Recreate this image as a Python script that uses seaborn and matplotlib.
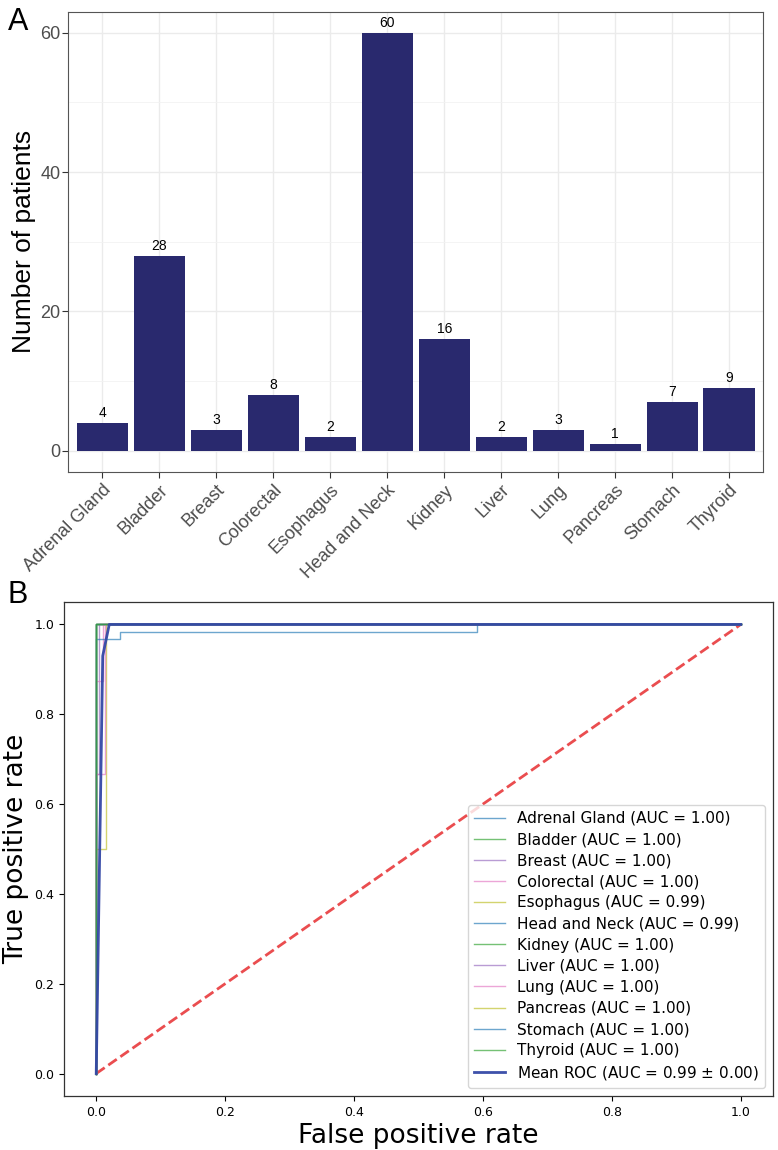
import matplotlib
matplotlib.use("Agg")
import matplotlib.pyplot as plt
import seaborn as sns
from matplotlib.ticker import MultipleLocator

# -------------------------
# Data
# -------------------------
cancer_types = ["Adrenal Gland", "Bladder", "Breast", "Colorectal", "Esophagus",
                "Head and Neck", "Kidney", "Liver", "Lung", "Pancreas",
                "Stomach", "Thyroid"]
patient_counts = [4, 28, 3, 8, 2, 60, 16, 2, 3, 1, 7, 9]

roc_labels = ["Adrenal Gland (AUC = 1.00)", "Bladder (AUC = 1.00)",
              "Breast (AUC = 1.00)", "Colorectal (AUC = 1.00)",
              "Esophagus (AUC = 0.99)", "Head and Neck (AUC = 0.99)",
              "Kidney (AUC = 1.00)", "Liver (AUC = 1.00)", "Lung (AUC = 1.00)",
              "Pancreas (AUC = 1.00)", "Stomach (AUC = 1.00)",
              "Thyroid (AUC = 1.00)"]

fpr_adrenal = [0.0, 0.0, 1.0]
tpr_adrenal = [0.0, 1.0, 1.0]
fpr_bladder = [0.0, 0.0, 1.0]
tpr_bladder = [0.0, 1.0, 1.0]
fpr_breast = [0.0, 0.0, 0.005, 0.005, 1.0]
tpr_breast = [0.0, 0.667, 0.667, 1.0, 1.0]
fpr_colorectal = [0.0, 0.0, 0.010, 0.010, 1.0]
tpr_colorectal = [0.0, 0.875, 0.875, 1.0, 1.0]
fpr_esophagus = [0.0, 0.0, 0.0155, 0.0155, 1.0]
tpr_esophagus = [0.0, 0.5, 0.5, 1.0, 1.0]
fpr_headneck = [0.0, 0.0, 0.037, 0.037, 0.59, 0.59, 1.0]
tpr_headneck = [0.0, 0.967, 0.967, 0.983, 0.983, 1.0, 1.0]
fpr_kidney = [0.0, 0.0, 1.0]
tpr_kidney = [0.0, 1.0, 1.0]
fpr_liver = [0.0, 0.0, 1.0]
tpr_liver = [0.0, 1.0, 1.0]
fpr_lung = [0.0, 0.0, 0.014, 0.014, 1.0]
tpr_lung = [0.0, 0.667, 0.667, 1.0, 1.0]
fpr_pancreas = [0.0, 0.0, 1.0]
tpr_pancreas = [0.0, 1.0, 1.0]
fpr_stomach = [0.0, 0.0, 1.0]
tpr_stomach = [0.0, 1.0, 1.0]
fpr_thyroid = [0.0, 0.0, 1.0]
tpr_thyroid = [0.0, 1.0, 1.0]

fpr_mean = [0.0, 0.0101, 0.0202, 1.0]
tpr_mean = [0.0, 0.93, 1.0, 1.0]
mean_label = "Mean ROC (AUC = 0.99 $\\pm$ 0.00)"

chance_x = [0.0, 1.0]
chance_y = [0.0, 1.0]

roc_curves = [
    (fpr_adrenal, tpr_adrenal), (fpr_bladder, tpr_bladder),
    (fpr_breast, tpr_breast), (fpr_colorectal, tpr_colorectal),
    (fpr_esophagus, tpr_esophagus), (fpr_headneck, tpr_headneck),
    (fpr_kidney, tpr_kidney), (fpr_liver, tpr_liver),
    (fpr_lung, tpr_lung), (fpr_pancreas, tpr_pancreas),
    (fpr_stomach, tpr_stomach), (fpr_thyroid, tpr_thyroid),
]
curve_colors = ["#1f77b4", "#2ca02c", "#9467bd", "#e377c2", "#bcbd22"]

BAR_COLOR = "#29296E"
GREY_TXT = "#4D4D4D"

fig = plt.figure(figsize=(7.78, 11.5), dpi=100)
fig.patch.set_facecolor("white")

# -------------------------
# Panel A : bar chart (ggplot theme_bw look)
# -------------------------
axA = fig.add_axes([68.3 / 778, 1 - 471.7 / 1150, 695 / 778, 460 / 1150])
sns.barplot(x=cancer_types, y=patient_counts, color=BAR_COLOR, saturation=1,
            width=0.9, ax=axA, edgecolor="none")
axA.bar_label(axA.containers[0], padding=2, fontsize=10,
              family="Liberation Sans", color="black")

axA.set_xlim(-0.6, 11.6)
axA.set_ylim(-3, 63)
axA.set_yticks([0, 20, 40, 60])
axA.yaxis.set_minor_locator(MultipleLocator(10))
axA.set_axisbelow(True)
axA.grid(which="major", color="#EBEBEB", lw=1.0)
axA.grid(which="minor", axis="y", color="#F2F2F2", lw=0.6)
axA.tick_params(which="minor", length=0)
axA.tick_params(which="major", length=4, width=0.8, color="#333333",
                labelcolor=GREY_TXT, labelsize=13, pad=3)
axA.tick_params(axis="y", pad=1.5)
for lab in axA.get_yticklabels():
    lab.set_family("Liberation Sans")
axA.set_xticks(range(len(cancer_types)))
axA.set_xticklabels(cancer_types, rotation=45, ha="right",
                    rotation_mode="anchor", family="Liberation Sans",
                    fontsize=13, color=GREY_TXT)
for sp in axA.spines.values():
    sp.set_color("#555555")
    sp.set_linewidth(0.8)
axA.set_xlabel("")
axA.set_ylabel("Number of patients", fontsize=19, family="Liberation Sans",
               labelpad=3)

fig.text(8 / 778, 1 - 30 / 1150, "A", fontsize=22, family="Liberation Sans",
         va="baseline", ha="left")

# -------------------------
# Panel B : ROC curves
# -------------------------
axB = fig.add_axes([64 / 778, 1 - 1096 / 1150, 709 / 778, 494 / 1150])
sns.lineplot(x=chance_x, y=chance_y, ax=axB, color="#E8393C", alpha=0.9,
             lw=2, linestyle="--", estimator=None, sort=False)

for i, (fpr, tpr) in enumerate(roc_curves):
    sns.lineplot(x=fpr, y=tpr, ax=axB, estimator=None, sort=False,
                 color=curve_colors[i % len(curve_colors)], lw=1, alpha=0.65,
                 label=roc_labels[i])

sns.lineplot(x=fpr_mean, y=tpr_mean, ax=axB, estimator=None, sort=False,
             color="#3347A6", lw=2.0, alpha=0.95, label=mean_label)

axB.set_xlim(-0.05, 1.05)
axB.set_ylim(-0.05, 1.05)
axB.set_xticks([0.0, 0.2, 0.4, 0.6, 0.8, 1.0])
axB.set_yticks([0.0, 0.2, 0.4, 0.6, 0.8, 1.0])
axB.tick_params(labelsize=9, length=3.5, direction="out")
for sp in axB.spines.values():
    sp.set_color("#333333")
    sp.set_linewidth(0.9)
axB.set_xlabel("False positive rate", fontsize=19, labelpad=3)
axB.set_ylabel("True positive rate", fontsize=19)

handles, labels = axB.get_legend_handles_labels()
axB.legend(handles, labels, loc="lower right", fontsize=11,
           labelspacing=0.4)

fig.text(8 / 778, 1 - 603 / 1150, "B", fontsize=22, family="Liberation Sans",
         va="baseline", ha="left")

fig.savefig("out.png", dpi=100)
